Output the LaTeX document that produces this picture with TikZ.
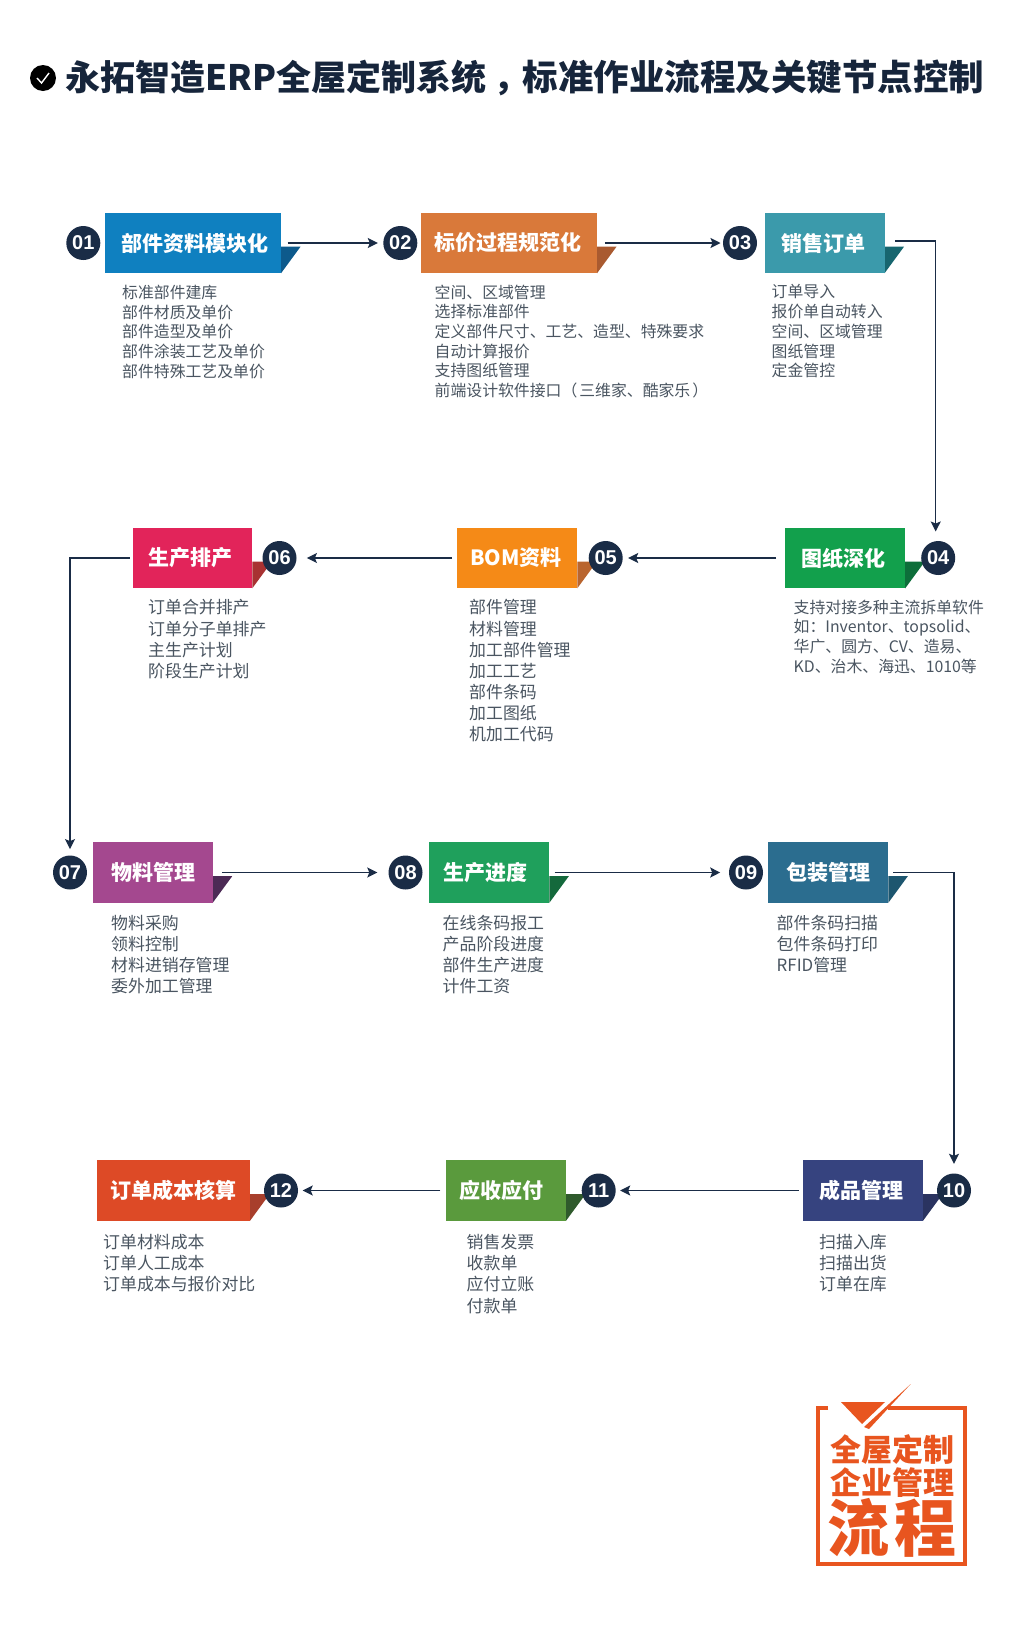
\documentclass[tikz,border=0pt]{standalone}
\usepackage{fontspec}
\setmainfont{Noto Sans CJK SC}
\newfontfamily\numfont{Liberation Sans}
\usetikzlibrary{arrows.meta}
\definecolor{ink}{HTML}{1A2C46}
\definecolor{bodytxt}{HTML}{4A5561}
\definecolor{logo}{HTML}{E8551F}
\definecolor{ca}{HTML}{0F80C0}\definecolor{da}{HTML}{0D5A8C}
\definecolor{cb}{HTML}{D9793A}\definecolor{db}{HTML}{A95A30}
\definecolor{cc}{HTML}{3B9AAB}\definecolor{dc}{HTML}{17666F}
\definecolor{cd}{HTML}{12A04C}\definecolor{dd}{HTML}{0D6E3A}
\definecolor{ce}{HTML}{F58A17}\definecolor{de}{HTML}{B9652F}
\definecolor{cf}{HTML}{E2245A}\definecolor{df}{HTML}{A83232}
\definecolor{cg}{HTML}{A4488F}\definecolor{dg}{HTML}{4C2A55}
\definecolor{ch}{HTML}{1FA05C}\definecolor{dh}{HTML}{14693C}
\definecolor{ci}{HTML}{2B6D8F}\definecolor{di}{HTML}{1D566F}
\definecolor{cj}{HTML}{36437F}\definecolor{dj}{HTML}{2A3360}
\definecolor{ck}{HTML}{5A9A3D}\definecolor{dk}{HTML}{2F5A2C}
\definecolor{cl}{HTML}{DD4A26}\definecolor{dl}{HTML}{A83F2C}
\tikzset{
  x=1pt,y=-1pt,
  numdot/.style={circle,fill=ink,draw=none,inner sep=0,minimum size=34pt,text=white,font=\numfont\fontsize{20}{24}\selectfont\bfseries},
  flow/.style={draw=ink,line width=1.4pt,-{Stealth[length=10pt,width=10pt,inset=2pt]}},
  bodytext/.style n args={2}{anchor=north west,inner sep=0,align=left,text=bodytxt,font=\fontsize{#1}{#2}\selectfont},
  smalltext/.style={bodytext={15.85}{19.7}},
  largetext/.style={bodytext={16.9}{21.1}},
  headtext/.style={inner sep=0,font=\fontsize{21}{25}\selectfont\bfseries,text=white},
  logotext/.style={text=logo,inner sep=0,font=\fontsize{#1}{#1}\selectfont\bfseries},
}
% id, number, circle x, x0, x1, y centre, title, title shift
\newcommand{\stepblock}[8]{%
  \pgfmathsetmacro{\bw}{#5-#4}%
  \fill[d#1] (#5,#6+3.7) -- (#5+19.5,#6+3.7) -- (#5,#6+30.3) -- cycle;
  \node[fill=c#1,inner sep=0,minimum width=\bw pt,minimum height=60.6pt] (box#1) at ({(#4+#5)/2},#6) {};
  \node[headtext] (head#1) at ([xshift=#8pt]box#1.center) {#7};
  \node[numdot] (num#1) at (#3,#6) {#2};
}
\begin{document}
\begin{tikzpicture}
\useasboundingbox (0,0) rectangle (1024,1631);
\fill[white] (0,0) rectangle (1024,1631);
% header
\node[circle,fill=black,inner sep=0,minimum size=26pt] (tick) at (43,78) {};
\draw[white,line width=1.4pt] (37,78) -- (41.5,83) -- (49,73);
\node[anchor=west,inner sep=0,text=ink!85!black,font=\fontsize{35}{40}\selectfont\bfseries] (title) at (65.5,78) {永拓智造ERP全屋定制系统\kern7pt，\kern-6pt{\fontsize{35.5}{40}\selectfont 标准作业流程及关键节点控制}};
% blocks
\stepblock{a}{01}{83.3}{105}{281}{243}{部件资料模块化}{1.5}
\stepblock{b}{02}{400.3}{421}{597}{243}{标价过程规范化}{-1.5}
\stepblock{c}{03}{740}{764.7}{884.5}{243}{销售订单}{-1.4}
\stepblock{d}{04}{938.2}{785.2}{905.2}{558}{图纸深化}{-1.5}
\stepblock{e}{05}{605.7}{457.3}{577.3}{558}{BOM资料}{-1.3}
\stepblock{f}{06}{279.5}{132.7}{252.3}{558}{生产排产}{-2.2}
\stepblock{g}{07}{70}{93.3}{212.7}{872.5}{物料管理}{0}
\stepblock{h}{08}{405.5}{429.3}{549.3}{872.5}{生产进度}{-3.6}
\stepblock{i}{09}{746}{768.3}{888.3}{872.5}{包装管理}{-0.3}
\stepblock{j}{10}{954}{803}{923}{1190.5}{成品管理}{-1.7}
\stepblock{k}{11}{598.7}{445.7}{566}{1190.5}{应收应付}{-4}
\stepblock{l}{12}{281}{97}{250}{1190.5}{订单成本核算}{-0.3}
% connectors
\draw[flow,shorten <=6.3pt,shorten >=5.3pt] (boxa) -- (numb);
\draw[flow,shorten <=7.6pt,shorten >=2.3pt] (boxb) -- (numc);
\draw[flow,shorten <=10.7pt,shorten >=9.3pt] ([yshift=2pt]boxc.east) -| ([xshift=-2.5pt]numd.north);
\draw[flow,shorten <=9pt,shorten >=5.3pt] (boxd) -- (nume);
\draw[flow,shorten <=5pt,shorten >=10.2pt] (boxe) -- (numf);
\draw[flow,shorten <=2.7pt,shorten >=6.2pt] (boxf.west) -| (numg.north);
\draw[flow,shorten <=9pt,shorten >=11pt] (boxg) -- (numh);
\draw[flow,shorten <=5pt,shorten >=8.6pt] (boxh) -- (numi);
\draw[flow,shorten <=4.7pt,shorten >=9.5pt] (boxi.east) -| (numj.north);
\draw[flow,shorten <=4pt,shorten >=4.3pt] (boxj) -- (numk);
\draw[flow,shorten <=5.2pt,shorten >=4.5pt] (boxk) -- (numl);
% body text
\node[smalltext] (ta) at (122,285) {标准部件建库\\部件材质及单价\\部件造型及单价\\部件涂装工艺及单价\\部件特殊工艺及单价};
\node[smalltext] (tb) at (434.5,284.5) {空间、区域管理\\选择标准部件\\定义部件尺寸、工艺、造型、特殊要求\\自动计算报价\\支持图纸管理\\前端设计软件接口（\kern2pt三维家、酷家乐\kern2pt）};
\node[smalltext] (tc) at (771.5,284.5) {订单导入\\报价单自动转入\\空间、区域管理\\图纸管理\\定金管控};
\node[smalltext] (td) at (793.5,599.5) {支持对接多种主流拆单软件\\如：Inventor、topsolid、\\华广、圆方、CV、造易、\\KD、治木、海迅、1010等};
\node[largetext] (te) at (469,599.5) {部件管理\\材料管理\\加工部件管理\\加工工艺\\部件条码\\加工图纸\\机加工代码};
\node[largetext] (tf) at (148,599.5) {订单合并排产\\订单分子单排产\\主生产计划\\阶段生产计划};
\node[largetext] (tg) at (111,915) {物料采购\\领料控制\\材料进销存管理\\委外加工管理};
\node[largetext] (th) at (442.5,915) {在线条码报工\\产品阶段进度\\部件生产进度\\计件工资};
\node[largetext] (ti) at (776.5,915) {部件条码扫描\\包件条码打印\\RFID管理};
\node[largetext] (tj) at (819,1234.3) {扫描入库\\扫描出货\\订单在库};
\node[largetext] (tk) at (466.5,1234.3) {销售发票\\收款单\\应付立账\\付款单};
\node[largetext] (tl) at (103,1234.3) {订单材料成本\\订单人工成本\\订单成本与报价对比};
% logo
\draw[logo,line width=3.5pt] (828,1408) -- (818,1408) -- (818,1564) -- (965,1564) -- (965,1408) -- (888,1408);
\fill[logo] (841,1402) -- (885,1402) -- (862,1424) -- cycle;
\fill[logo] (864,1427) -- (910.7,1384) -- (869,1429) -- cycle;
\node[logotext=31] (logoa) at (892,1449.5) {全屋定制};
\node[logotext=31] (logob) at (892,1482.5) {企业管理};
\node[logotext=62] (logoc) at (858,1528) {流};
\node[logotext=62] (logod) at (925,1528) {程};
\end{tikzpicture}
\end{document}
